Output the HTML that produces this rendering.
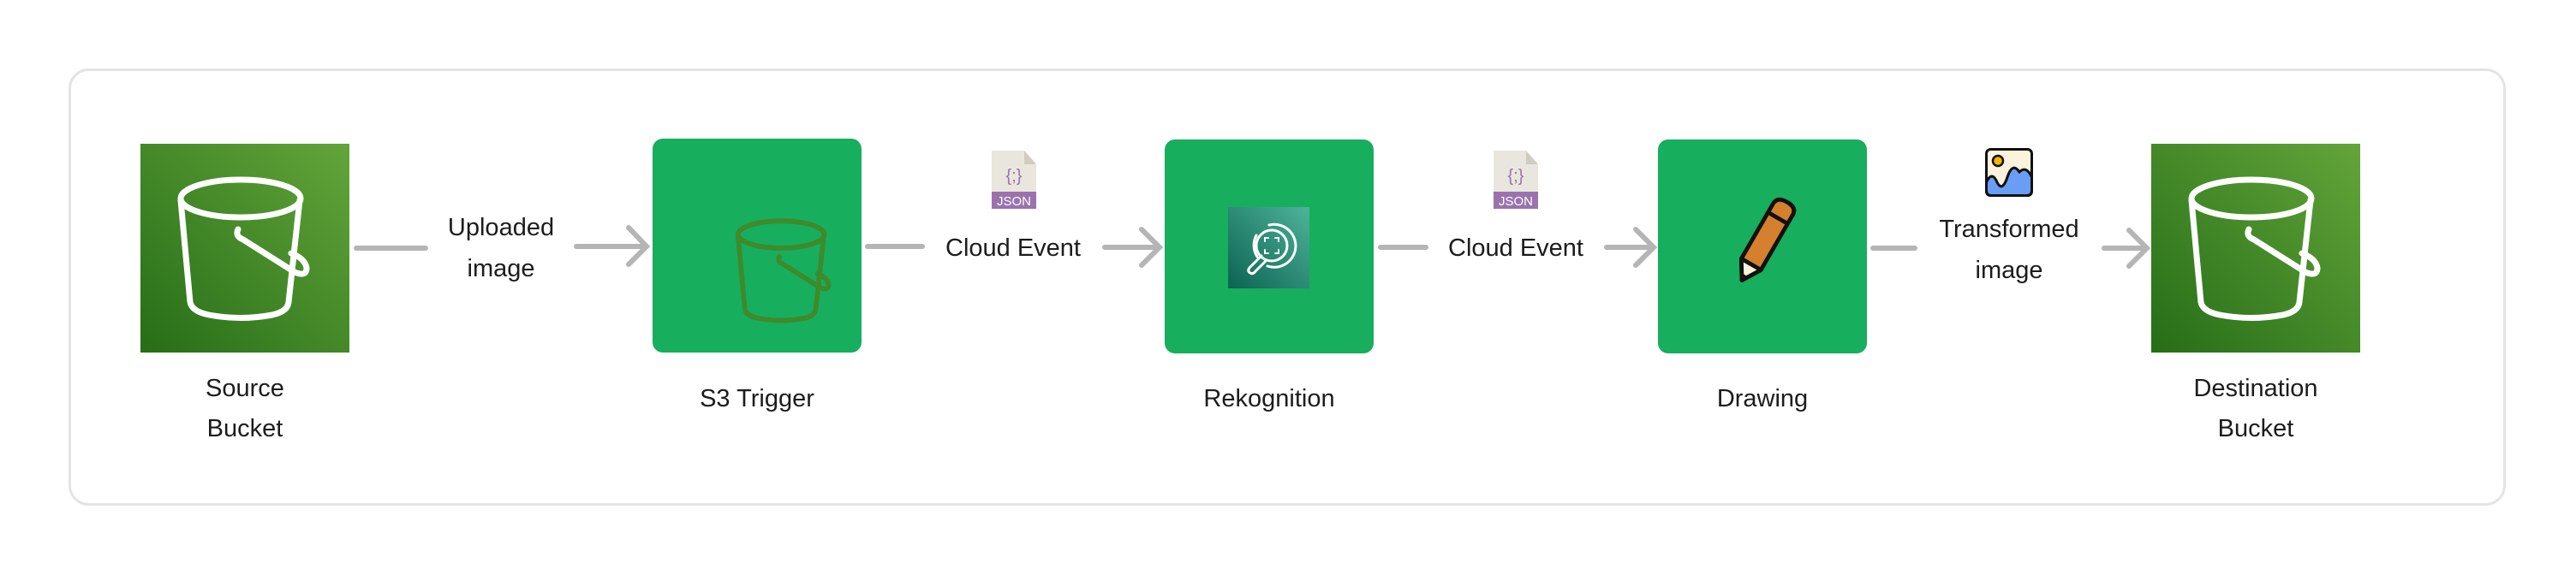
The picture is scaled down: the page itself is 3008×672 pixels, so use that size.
<!DOCTYPE html>
<html><head><meta charset="utf-8"><style>
html,body{margin:0;padding:0;background:#fff;}
svg{display:block;}
text{font-family:"Liberation Sans",sans-serif;fill:#1c1c1c;}
</style></head><body>
<svg width="3008" height="672" viewBox="0 0 3008 672" xmlns="http://www.w3.org/2000/svg">
<defs>
<linearGradient id="s3g" x1="0" y1="1" x2="1" y2="0">
<stop offset="0" stop-color="#266d17"/><stop offset="1" stop-color="#63a53a"/></linearGradient>
<linearGradient id="rkg" x1="0" y1="1" x2="1" y2="0">
<stop offset="0" stop-color="#0b6351"/><stop offset="1" stop-color="#4fb39a"/></linearGradient>
</defs>
<rect x="81.5" y="81.5" width="2843" height="508" rx="22" fill="#fff" stroke="#e4e4e4" stroke-width="3"/>

<!-- Source bucket -->
<rect x="164" y="168" width="244" height="244" fill="url(#s3g)"/>
<g transform="translate(164,168)" fill="none" stroke="#fff" stroke-width="7" stroke-linecap="round">
<ellipse cx="117" cy="64" rx="70" ry="22"/>
<path d="M47 66 L58 185 Q60 196 80 200 Q117 207 154 200 Q172 196 173 185 L186 66"/>
<path d="M114 100 Q110 108 120 112 L180 150 Q194 156 194 145 Q192 134 176 128"/>
</g>

<!-- S3 trigger -->
<rect x="762" y="162" width="244" height="250" rx="12" fill="#17ae5e"/>
<g transform="translate(762,162) translate(66,66) scale(0.72)" fill="none" stroke="#3f8a2b" stroke-width="8" stroke-linecap="round">
<ellipse cx="117" cy="64" rx="70" ry="22"/>
<path d="M47 66 L58 185 Q60 196 80 200 Q117 207 154 200 Q172 196 173 185 L186 66"/>
<path d="M114 100 Q110 108 120 112 L180 150 Q194 156 194 145 Q192 134 176 128"/>
</g>

<!-- Rekognition -->
<rect x="1360" y="163" width="244" height="250" rx="12" fill="#17ae5e"/>
<rect x="1434" y="242" width="95" height="95" fill="url(#rkg)"/>
<g fill="none" stroke="#fff" stroke-width="3" stroke-linecap="round">
<circle cx="1485" cy="287" r="18"/>
<path d="M1482 263 A25 25 0 1 1 1480 311"/>
<path d="M1467 275 A25 25 0 0 0 1468 300"/>
<path d="M1473 299 L1459 313 Q1456 317 1460 319 Q1463 321 1466 317 L1479 304"/>
<path d="M1477 282 v-4 h4 M1493 282 v-4 h-4 M1477 292 v4 h4 M1493 292 v4 h-4" stroke-width="2"/>
</g>

<!-- Drawing -->
<rect x="1936" y="163" width="244" height="250" rx="12" fill="#17ae5e"/>
<g transform="translate(2058,286) rotate(30) scale(1.2)">
<path d="M-11 -40 Q-11 -48 0 -48 Q11 -48 11 -40 L11 22 L0 40 L-11 22 Z" fill="#d5802f" stroke="#111" stroke-width="4" stroke-linejoin="round"/>
<path d="M-11 22 L11 22 L0 40 Z" fill="#fbf0dc" stroke="#111" stroke-width="4" stroke-linejoin="round"/>
<path d="M-4 34 L4 34 L0 41 Z" fill="#111"/>
<line x1="-11" y1="-30" x2="11" y2="-30" stroke="#111" stroke-width="4"/>
</g>

<!-- Destination bucket -->
<rect x="2512" y="168" width="244" height="244" fill="url(#s3g)"/>
<g transform="translate(2512,168)" fill="none" stroke="#fff" stroke-width="7" stroke-linecap="round">
<ellipse cx="117" cy="64" rx="70" ry="22"/>
<path d="M47 66 L58 185 Q60 196 80 200 Q117 207 154 200 Q172 196 173 185 L186 66"/>
<path d="M114 100 Q110 108 120 112 L180 150 Q194 156 194 145 Q192 134 176 128"/>
</g>

<!-- connectors -->
<g stroke="#b5b5b5" stroke-width="6" stroke-linecap="round" fill="none">
<line x1="416" y1="290" x2="497" y2="290"/>
<line x1="673" y1="288" x2="754" y2="288"/><path d="M734 266 L755 288 L734 309"/>
<line x1="1013" y1="288" x2="1077" y2="288"/>
<line x1="1290" y1="289" x2="1354" y2="289"/><path d="M1333 268 L1354 289 L1333 310"/>
<line x1="1612" y1="289" x2="1665" y2="289"/>
<line x1="1876" y1="289" x2="1930" y2="289"/><path d="M1910 268 L1931 289 L1910 310"/>
<line x1="2187" y1="290" x2="2236" y2="290"/>
<line x1="2457" y1="290" x2="2506" y2="290"/><path d="M2486 269 L2507 290 L2486 311"/>
</g>

<!-- JSON icons -->
<g transform="translate(1158,176)">
<path d="M0 0 H38 L52 16 V68 H0 Z" fill="#e9e7dd"/><path d="M38 0 V16 H52 Z" fill="#cfccc0"/>
<rect x="0" y="48" width="52" height="20" fill="#9a72ae"/>
<text x="26" y="64" font-size="15" text-anchor="middle" style="fill:#fff">JSON</text>
<text x="26" y="36" font-size="20" text-anchor="middle" style="fill:#9a72ae">{;}</text>
</g>
<g transform="translate(1744,176)">
<path d="M0 0 H38 L52 16 V68 H0 Z" fill="#e9e7dd"/><path d="M38 0 V16 H52 Z" fill="#cfccc0"/>
<rect x="0" y="48" width="52" height="20" fill="#9a72ae"/>
<text x="26" y="64" font-size="15" text-anchor="middle" style="fill:#fff">JSON</text>
<text x="26" y="36" font-size="20" text-anchor="middle" style="fill:#9a72ae">{;}</text>
</g>

<!-- image icon -->
<g transform="translate(2318,173)">
<rect x="1.5" y="1.5" width="53" height="54" rx="5" fill="#fdf2dc"/>
<path d="M1.5 40 Q8 26 14 40 Q20 52 26 34 Q32 16 40 28 Q48 20 54.5 34 V50 Q54.5 55.5 49 55.5 H7 Q1.5 55.5 1.5 50 Z" fill="#6a9df5" stroke="#111" stroke-width="3"/>
<circle cx="15" cy="15" r="6" fill="#f4b400" stroke="#111" stroke-width="2.5"/>
<rect x="1.5" y="1.5" width="53" height="54" rx="5" fill="none" stroke="#111" stroke-width="3"/>
</g>

<!-- labels -->
<g font-size="29" text-anchor="middle">
<text x="286" y="463">Source</text><text x="286" y="510">Bucket</text>
<text x="884" y="475">S3 Trigger</text>
<text x="1482" y="475">Rekognition</text>
<text x="2058" y="475">Drawing</text>
<text x="2634" y="463">Destination</text><text x="2634" y="510">Bucket</text>
<text x="585" y="275">Uploaded</text><text x="585" y="323">image</text>
<text x="1183" y="299">Cloud Event</text>
<text x="1770" y="299">Cloud Event</text>
<text x="2346" y="277">Transformed</text><text x="2346" y="325">image</text>
</g>
</svg>
</body></html>
